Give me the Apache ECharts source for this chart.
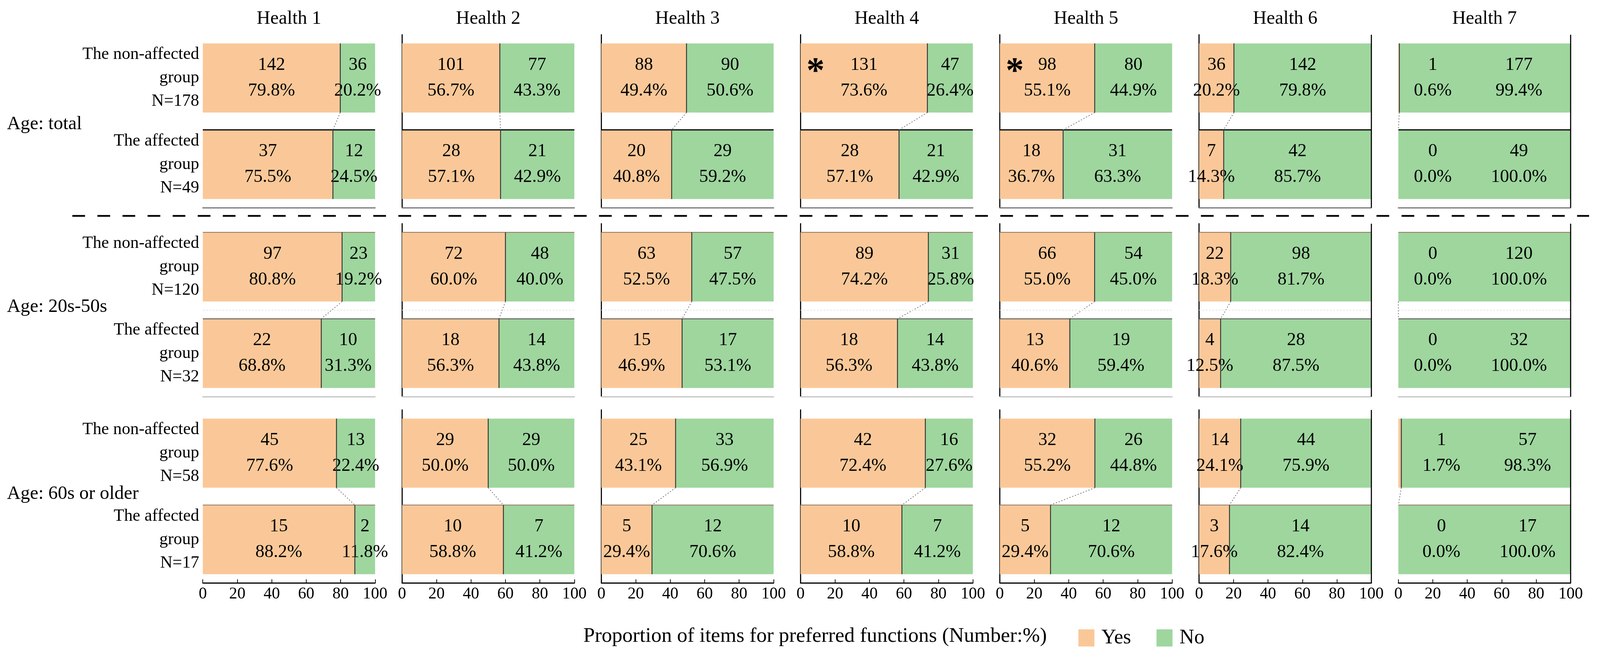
<!DOCTYPE html>
<html>
<head>
<meta charset="utf-8">
<script src="https://cdn.jsdelivr.net/npm/echarts@6/dist/echarts.min.js"></script>
<style>html,body{margin:0;padding:0;background:#fff;overflow:hidden;width:100%;height:100%}#c{width:100vw;height:100vh}</style>
</head>
<body>
<div id="c"></div>
<script>
// ---------------- DATA ----------------
const healthItems = ['Health 1','Health 2','Health 3','Health 4','Health 5','Health 6','Health 7'];
const ageGroups = ['Age: total','Age: 20s-50s','Age: 60s or older'];
const groupNames = ['The non-affected\ngroup','The affected\ngroup'];
const seriesNames = ['Yes','No'];
const xTicks = [0,20,40,60,80,100];

// counts: Yes / No per Health item
const totalNonYes = [142,101,88,131,98,36,1];
const totalNonNo  = [36,77,90,47,80,142,177];
const totalAffYes = [37,28,20,28,18,7,0];
const totalAffNo  = [12,21,29,21,31,42,49];
const midNonYes = [97,72,63,89,66,22,0];
const midNonNo  = [23,48,57,31,54,98,120];
const midAffYes = [22,18,15,18,13,4,0];
const midAffNo  = [10,14,17,14,19,28,32];
const oldNonYes = [45,29,25,42,32,14,1];
const oldNonNo  = [13,29,33,16,26,44,57];
const oldAffYes = [15,10,5,10,5,3,0];
const oldAffNo  = [2,7,12,7,12,14,17];
const significantTotalNon = ['Health 4','Health 5']; // marked with *

// ---------------- STYLE / LAYOUT ----------------
const el = document.getElementById('c');
const VW = el.clientWidth || window.innerWidth || 4402;
const VH = el.clientHeight || window.innerHeight || 1688;
const SX = VW / 4402, SY = VH / 1688, SF = Math.min(SX, SY);
const X = v => v * SX, Y = v => v * SY, F = v => v * SF;

const FONT = 'Liberation Serif';
const YES = '#FAC898', NO = '#9ED69E';
const COL_LEFT0 = 558, COL_STEP = 548.2, COL_W = 474;
const BLOCK_TOP = [89, 573, 1050], BLOCK_H = 443;
const ageLabelY = [318, 786, 1265];
// label anchors (percent of axis) for the near-zero Health 7 column
const h7LabelAt = [[20,70],[20,70],[25,75]];

const blocks = [
  [[totalNonYes,totalNonNo],[totalAffYes,totalAffNo]],
  [[midNonYes,midNonNo],[midAffYes,midAffNo]],
  [[oldNonYes,oldNonNo],[oldAffYes,oldAffNo]]
];

function pct(b, r, c, s) {
  const y = blocks[b][r][0][c], n = blocks[b][r][1][c];
  return (s === 0 ? y : n) / (y + n) * 100;
}

const grid = [], xAxis = [], yAxis = [], series = [];
let g = 0;
for (let b = 0; b < 3; b++) {
  for (let c = 0; c < 7; c++) {
    grid.push({left: X(COL_LEFT0 + c * COL_STEP), top: Y(BLOCK_TOP[b]), width: X(COL_W), height: Y(BLOCK_H), containLabel: false});
    const last = b === 2;
    xAxis.push({
      type: 'value', gridIndex: g, min: xTicks[0], max: xTicks[xTicks.length - 1], interval: xTicks[1] - xTicks[0],
      splitLine: {show: false},
      axisLine: {show: true, lineStyle: {color: last ? '#000' : (b === 0 ? '#777' : '#c4c4c4'), width: F(3)}},
      axisTick: {show: last, inside: true, length: Y(9), lineStyle: {color: '#000', width: F(2)}},
      axisLabel: {show: last, fontSize: F(45), margin: Y(8), color: '#000', fontFamily: FONT}
    });
    const cats = groupNames.map((nm, r) => nm + '\nN=' + (blocks[b][r][0][c] + blocks[b][r][1][c]));
    yAxis.push({
      type: 'category', gridIndex: g, inverse: true, data: cats,
      axisLine: {show: c >= 1 && c <= 5, onZero: false, lineStyle: {color: '#000', width: F(3)}},
      axisTick: {show: false},
      axisLabel: {show: c === 0, fontSize: F(47), lineHeight: Y(60), align: 'right', margin: X(10), color: '#000', fontFamily: FONT, padding: [Y(32), 0, 0, 0]},
      splitLine: {show: false}
    });
    for (let s = 0; s < 2; s++) {
      const bb = b, cc = c, ss = s;
      const data = [0, 1].map(r => {
        const v = pct(bb, r, cc, ss);
        const item = {value: v};
        if (cc === 6) {
          const center = ss === 0 ? v / 2 : pct(bb, r, cc, 0) + v / 2;
          item.label = {offset: [X((h7LabelAt[bb][ss] - center) / 100 * COL_W), 0]};
        }
        return item;
      });
      series.push({
        type: 'bar', name: seriesNames[s], xAxisIndex: g, yAxisIndex: g, stack: 'st' + g,
        barWidth: '80%', silent: true, data: data,
        itemStyle: {color: s === 0 ? YES : NO},
        label: {
          show: true, position: 'inside', fontSize: F(50), lineHeight: Y(66), color: '#000', fontFamily: FONT,
          padding: [Y(8), 0, 0, 0],
          formatter: p => blocks[bb][p.dataIndex][ss][cc] + '\n' + p.value.toFixed(1) + '%'
        },
        z: 2
      });
    }
    // boundary lines, series connector, extra frame lines, significance mark
    const bb = b, cc = c;
    series.push({
      type: 'custom', xAxisIndex: g, yAxisIndex: g, silent: true, z: 4, data: [[50, 0]],
      renderItem: function (params, api) {
        const cs = params.coordSys;
        const bh = api.size([0, 1])[1] * 0.8;
        const kids = [];
        const yesV = [pct(bb, 0, cc, 0), pct(bb, 1, cc, 0)];
        const pts = [api.coord([yesV[0], 0]), api.coord([yesV[1], 1])];
        const topLines = [[null, '#111'], ['#9a8068', '#555'], [null, '#9a8068']][bb];
        for (let r = 0; r < 2; r++) {
          if (topLines[r]) {
            const y0 = pts[r][1] - bh / 2;
            kids.push({type: 'line', shape: {x1: cs.x, y1: y0, x2: cs.x + cs.width, y2: y0},
              style: {stroke: topLines[r], lineWidth: F(r === 1 && bb === 0 ? 3.5 : 2.5)}});
          }
        }
        for (let r = 0; r < 2; r++) {
          if (yesV[r] > 0) {
            kids.push({type: 'line', shape: {x1: pts[r][0], y1: pts[r][1] - bh / 2, x2: pts[r][0], y2: pts[r][1] + bh / 2},
              style: {stroke: '#333', lineWidth: F(2.5)}});
          }
        }
        kids.push({type: 'line', shape: {x1: pts[0][0], y1: pts[0][1] + bh / 2, x2: pts[1][0], y2: pts[1][1] - bh / 2},
          style: {stroke: '#666', lineWidth: F(2), lineDash: [F(3), F(5)]}});
        if (bb === 1) {
          const ym = cs.y + cs.height / 2;
          kids.push({type: 'line', shape: {x1: cs.x, y1: ym, x2: cs.x + cs.width, y2: ym},
            style: {stroke: '#e4e4e4', lineWidth: F(2), lineDash: [F(5), F(4)]}});
        }
        if (cc >= 5) {
          kids.push({type: 'line', shape: {x1: cs.x + cs.width, y1: cs.y, x2: cs.x + cs.width, y2: cs.y + cs.height},
            style: {stroke: '#000', lineWidth: F(3)}});
        }
        if (bb === 0 && significantTotalNon.indexOf(healthItems[cc]) >= 0) {
          const p0 = api.coord([0, 0]);
          kids.push({type: 'text', x: p0[0] + X(41), y: p0[1] - Y(14),
            style: {text: '*', fontSize: F(100), fontWeight: 'bold', fontFamily: FONT, fill: '#000', align: 'center', verticalAlign: 'middle'}});
        }
        return {type: 'group', children: kids};
      }
    });
    g++;
  }
}

const graphic = [];
healthItems.forEach((h, c) => {
  graphic.push({type: 'text', x: X(COL_LEFT0 + c * COL_STEP + COL_W / 2), y: Y(48),
    style: {text: h, fontSize: F(52), fontFamily: FONT, fill: '#000', align: 'center', verticalAlign: 'middle'}});
});
ageGroups.forEach((a, b) => {
  graphic.push({type: 'text', x: X(19), y: Y(ageLabelY[b]),
    style: {text: a, fontSize: F(52), fontFamily: FONT, fill: '#000', align: 'left', verticalAlign: 'middle'}});
});
graphic.push({type: 'line', shape: {x1: X(199), y1: Y(553), x2: X(4372), y2: Y(553)},
  style: {stroke: '#000', lineWidth: F(5), lineDash: [X(35), X(34)]}});
graphic.push({type: 'text', x: X(2880), y: Y(1630),
  style: {text: 'Proportion of items for preferred functions (Number:%)', fontSize: F(57), fontFamily: FONT, fill: '#000', align: 'right', verticalAlign: 'middle'}});

const chart = echarts.init(el, null, {renderer: 'canvas', width: VW, height: VH});
chart.setOption({
  animation: false,
  backgroundColor: '#fff',
  textStyle: {fontFamily: FONT},
  grid, xAxis, yAxis, series, graphic,
  legend: {
    data: seriesNames, left: X(2967), top: Y(1608), itemWidth: X(44), itemHeight: Y(44), itemGap: X(70), padding: 0,
    icon: 'rect', selectedMode: false,
    textStyle: {fontSize: F(56), fontFamily: FONT, color: '#000', padding: [0, 0, 0, X(14)]}
  }
});
</script>
</body>
</html>
